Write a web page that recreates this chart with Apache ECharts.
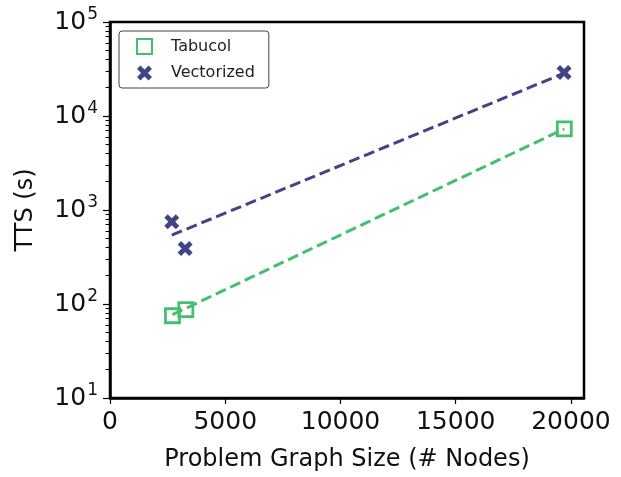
<!DOCTYPE html>
<html>
<head>
<meta charset="utf-8">
<script src="https://cdn.jsdelivr.net/npm/echarts@6/dist/echarts.min.js"></script>
<style>
  html, body { margin: 0; padding: 0; background: #fff; }
  #chart { width: 621px; height: 477px; }
</style>
</head>
<body>
<div id="chart"></div>
<script>
// measured points
var tabucolX = [2710, 3290, 19710];
var tabucolY = [75, 87, 7300];
var vectorX = [2680, 3260, 19700];
var vectorY = [750, 390, 29000];
// dashed fit lines (end points)
var tabucolFitX = [2710, 19710];
var tabucolFitY = [77, 7300];
var vectorFitX = [2680, 19700];
var vectorFitY = [540, 28500];
// ticks
var xTicks = [0, 5000, 10000, 15000, 20000];
var yTicks = [10, 100, 1000, 10000, 100000];

var green = '#44bf70';
var blue = '#414487';
var font = 'DejaVu Sans';

// minor ticks 2..9 per decade, placed on a hidden linear axis in log10 units
var minorTicks = [];
for (var d = 1; d < 5; d++) {
    for (var k = 2; k <= 9; k++) minorTicks.push(d + Math.log10(k));
}

function pairs(xs, ys) {
    return xs.map(function (x, i) { return [x, ys[i]]; });
}

var xMarker = 'path://M0,2.3L2.3,0L5,2.7L7.7,0L10,2.3L7.3,5L10,7.7L7.7,10L5,7.3L2.3,10L0,7.7L2.7,5Z';

var option = {
    animation: false,
    backgroundColor: '#fff',
    textStyle: { fontFamily: font },
    grid: {
        left: 110, top: 22, right: 37, bottom: 79,
        show: true, borderColor: '#000', borderWidth: 2.5
    },
    legend: {
        orient: 'vertical',
        left: 119, top: 31,
        padding: [7, 14, 7, 17],
        itemGap: 10,
        itemWidth: 15, itemHeight: 15,
        backgroundColor: '#fff',
        borderColor: '#444', borderWidth: 1, borderRadius: 3,
        textStyle: { fontFamily: font, fontSize: 16, color: '#222', padding: [0, 0, 0, 14] },
        data: ['Tabucol', 'Vectorized']
    },
    xAxis: {
        type: 'value',
        min: 0, max: 20565,
        name: 'Problem Graph Size (# Nodes)',
        nameLocation: 'middle',
        nameGap: 50,
        nameTextStyle: { fontFamily: font, fontSize: 24, color: '#111' },
        axisLine: { show: true, onZero: false, lineStyle: { color: '#000', width: 2.5 } },
        axisTick: { show: true, length: 6, customValues: xTicks, lineStyle: { color: '#000', width: 1.2 } },
        axisLabel: {
            customValues: xTicks, margin: 12, fontFamily: font, fontSize: 25, color: '#111',
            formatter: function (v) { return String(v); }
        },
        splitLine: { show: false }
    },
    yAxis: [{
        type: 'log',
        logBase: 10,
        min: 10, max: 100000,
        name: 'TTS (s)',
        nameLocation: 'middle',
        nameGap: 72,
        nameTextStyle: { fontFamily: font, fontSize: 24, color: '#111' },
        axisLine: { show: true, lineStyle: { color: '#000', width: 2.5 } },
        axisTick: { show: true, length: 7, customValues: yTicks, lineStyle: { color: '#000', width: 1.2 } },
        axisLabel: {
            customValues: yTicks,
            margin: 12,
            formatter: function (v) {
                return '{b|10}{s|' + Math.round(Math.log10(v)) + '}';
            },
            rich: {
                b: { fontFamily: font, fontSize: 25, color: '#111' },
                s: { fontFamily: font, fontSize: 17, color: '#111', padding: [0, 0, 15, 1] }
            }
        },
        splitLine: { show: false }
    }, {
        type: 'value',
        min: 1, max: 5,
        position: 'left',
        axisLine: { show: false },
        axisTick: { show: true, length: 4.5, customValues: minorTicks, lineStyle: { color: '#000', width: 1 } },
        axisLabel: { show: false },
        splitLine: { show: false }
    }],
    series: [
        {
            name: 'Tabucol fit',
            type: 'line',
            data: pairs(tabucolFitX, tabucolFitY),
            showSymbol: false,
            symbol: 'none',
            lineStyle: { color: green, width: 3, type: [11, 5] },
            z: 2
        },
        {
            name: 'Vectorized fit',
            type: 'line',
            data: pairs(vectorFitX, vectorFitY),
            showSymbol: false,
            symbol: 'none',
            lineStyle: { color: blue, width: 3, type: [11, 5] },
            z: 2
        },
        {
            name: 'Tabucol',
            type: 'scatter',
            data: pairs(tabucolX, tabucolY),
            symbol: 'rect',
            symbolSize: 14,
            itemStyle: { color: 'rgba(255,255,255,0)', borderColor: green, borderWidth: 2.8, opacity: 1 },
            z: 3
        },
        {
            name: 'Vectorized',
            type: 'scatter',
            data: pairs(vectorX, vectorY),
            symbol: xMarker,
            symbolSize: 15,
            itemStyle: { color: blue, opacity: 1 },
            z: 3
        }
    ]
};

var chart = echarts.init(document.getElementById('chart'));
chart.setOption(option);
window.addEventListener('resize', function () {
    chart.resize();
});
</script>
</body>
</html>
